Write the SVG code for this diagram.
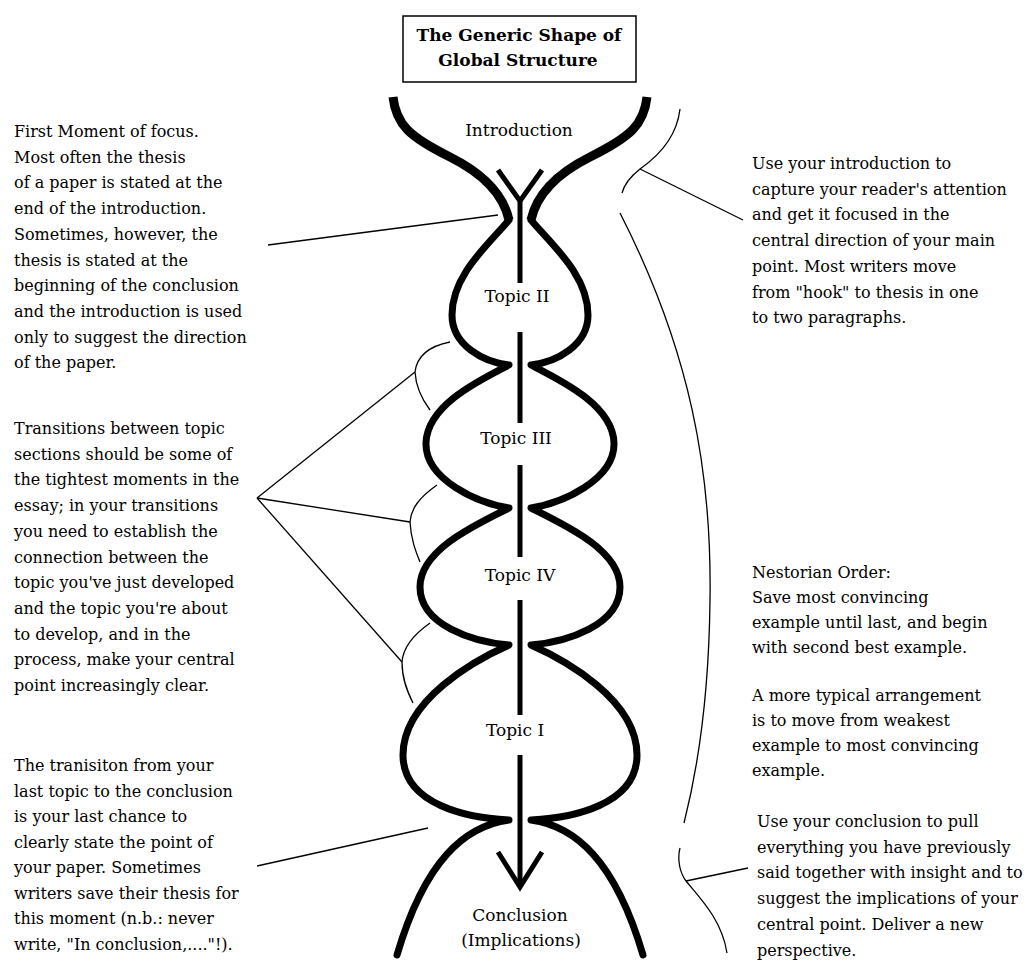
<svg xmlns="http://www.w3.org/2000/svg" xmlns:xlink="http://www.w3.org/1999/xlink" width="1031" height="961" viewBox="0 0 1031 961">
<style>
  .t { font-family: "DejaVu Serif", "Liberation Serif", serif; font-size: 16px; fill: #000; }
  .lbl { font-family: "DejaVu Serif", "Liberation Serif", serif; font-size: 17px; fill: #000; text-anchor: middle; }
  .ttl { font-family: "DejaVu Serif", "Liberation Serif", serif; font-size: 17px; font-weight: bold; fill: #000; text-anchor: middle; }
  .shape { fill: none; stroke: #000; stroke-width: 7; stroke-linejoin: round; stroke-linecap: round; }
  .funnel { fill: none; stroke: #000; stroke-width: 9; stroke-linejoin: round; stroke-linecap: butt; }
  .stem { fill: none; stroke: #000; stroke-width: 5; stroke-linejoin: miter; }
  .thin { fill: none; stroke: #000; stroke-width: 1.3; }
</style>
<defs>
  <path id="introSide" d="M 393 97 C 396 125, 410 137, 450 157 C 488 176, 504 197, 509 220"/>
  <path id="bodySide" d="M 509 220 C 488 245, 452 275, 452 315 C 452 345, 483 362, 509 365 C 480 380, 427 405, 426 443 C 425 480, 478 503, 509 508 C 475 525, 420 550, 420 587 C 420 625, 473 642, 509 645 C 475 660, 403 700, 403 755 C 403 805, 468 818, 509 820 C 465 826, 425 860, 397 955"/>
</defs>
<rect width="1031" height="961" fill="#fff"/>

<g id="title">
  <rect x="403" y="16" width="233" height="66" fill="#fff" stroke="#000" stroke-width="1.5"/>
  <text class="ttl" x="519" y="41">The Generic Shape of</text>
  <text class="ttl" x="518" y="66">Global Structure</text>
</g>

<g id="structure">
  <use xlink:href="#introSide" class="funnel"/>
  <use xlink:href="#introSide" class="funnel" transform="matrix(-1 0 0 1 1040 0)"/>
  <use xlink:href="#bodySide" class="shape"/>
  <use xlink:href="#bodySide" class="shape" transform="matrix(-1 0 0 1 1040 0)"/>
  <polyline class="stem" points="498,170 520,201 542,170"/>
  <line class="stem" x1="520" y1="200" x2="520" y2="283"/>
  <line class="stem" x1="520" y1="332" x2="520" y2="423"/>
  <line class="stem" x1="520" y1="465" x2="520" y2="557"/>
  <line class="stem" x1="520" y1="600" x2="520" y2="715"/>
  <line class="stem" x1="520" y1="755" x2="520" y2="884"/>
  <polyline class="stem" points="498,852 520,887 542,852"/>
</g>

<g id="introduction"><text class="lbl" x="519" y="136">Introduction</text></g>
<g id="topic-ii"><text class="lbl" x="517" y="302">Topic II</text></g>
<g id="topic-iii"><text class="lbl" x="516" y="444">Topic III</text></g>
<g id="topic-iv"><text class="lbl" x="520" y="581">Topic IV</text></g>
<g id="topic-i"><text class="lbl" x="515" y="736">Topic I</text></g>
<g id="conclusion">
  <text class="lbl" x="520" y="921">Conclusion</text>
  <text class="lbl" x="521" y="946">(Implications)</text>
</g>

<g id="note-first-moment">
  <text class="t" x="14" y="137">
    <tspan x="14" dy="0">First Moment of focus.</tspan>
    <tspan x="14" dy="25.7">Most often the thesis</tspan>
    <tspan x="14" dy="25.7">of a paper is stated at the</tspan>
    <tspan x="14" dy="25.7">end of the introduction.</tspan>
    <tspan x="14" dy="25.7">Sometimes, however, the</tspan>
    <tspan x="14" dy="25.7">thesis is stated at the</tspan>
    <tspan x="14" dy="25.7">beginning of the conclusion</tspan>
    <tspan x="14" dy="25.7">and the introduction is used</tspan>
    <tspan x="14" dy="25.7">only to suggest the direction</tspan>
    <tspan x="14" dy="25.7">of the paper.</tspan>
  </text>
</g>

<g id="note-transitions">
  <text class="t" x="14" y="434">
    <tspan x="14" dy="0">Transitions between topic</tspan>
    <tspan x="14" dy="25.7">sections should be some of</tspan>
    <tspan x="14" dy="25.7">the tightest moments in the</tspan>
    <tspan x="14" dy="25.7">essay; in your transitions</tspan>
    <tspan x="14" dy="25.7">you need to establish the</tspan>
    <tspan x="14" dy="25.7">connection between the</tspan>
    <tspan x="14" dy="25.7">topic you've just developed</tspan>
    <tspan x="14" dy="25.7">and the topic you're about</tspan>
    <tspan x="14" dy="25.7">to develop, and in the</tspan>
    <tspan x="14" dy="25.7">process, make your central</tspan>
    <tspan x="14" dy="25.7">point increasingly clear.</tspan>
  </text>
</g>

<g id="note-last-transition">
  <text class="t" x="14" y="771">
    <tspan x="14" dy="0">The tranisiton from your</tspan>
    <tspan x="14" dy="25.5">last topic to the conclusion</tspan>
    <tspan x="14" dy="25.5">is your last chance to</tspan>
    <tspan x="14" dy="25.5">clearly state the point of</tspan>
    <tspan x="14" dy="25.5">your paper. Sometimes</tspan>
    <tspan x="14" dy="25.5">writers save their thesis for</tspan>
    <tspan x="14" dy="25.5">this moment (n.b.: never</tspan>
    <tspan x="14" dy="25.5">write, "In conclusion,...."!).</tspan>
  </text>
</g>

<g id="note-introduction">
  <text class="t" x="752" y="169">
    <tspan x="752" dy="0">Use your introduction to</tspan>
    <tspan x="752" dy="25.7">capture your reader's attention</tspan>
    <tspan x="752" dy="25.7">and get it focused in the</tspan>
    <tspan x="752" dy="25.7">central direction of your main</tspan>
    <tspan x="752" dy="25.7">point. Most writers move</tspan>
    <tspan x="752" dy="25.7">from "hook" to thesis in one</tspan>
    <tspan x="752" dy="25.7">to two paragraphs.</tspan>
  </text>
</g>

<g id="note-order">
  <text class="t" x="752" y="578">
    <tspan x="752" dy="0">Nestorian Order:</tspan>
    <tspan x="752" dy="25">Save most convincing</tspan>
    <tspan x="752" dy="25">example until last, and begin</tspan>
    <tspan x="752" dy="25">with second best example.</tspan>
    <tspan x="752" dy="48">A more typical arrangement</tspan>
    <tspan x="752" dy="25">is to move from weakest</tspan>
    <tspan x="752" dy="25">example to most convincing</tspan>
    <tspan x="752" dy="25">example.</tspan>
  </text>
</g>

<g id="note-conclusion">
  <text class="t" x="757" y="827">
    <tspan x="757" dy="0">Use your conclusion to pull</tspan>
    <tspan x="757" dy="25.7">everything you have previously</tspan>
    <tspan x="757" dy="25.7">said together with insight and to</tspan>
    <tspan x="757" dy="25.7">suggest the implications of your</tspan>
    <tspan x="757" dy="25.7">central point. Deliver a new</tspan>
    <tspan x="757" dy="25.7">perspective.</tspan>
  </text>
</g>

<g id="connectors">
  <line class="thin" x1="268" y1="245" x2="498" y2="215"/>
  <line class="thin" x1="257" y1="498" x2="415" y2="372"/>
  <line class="thin" x1="257" y1="498" x2="410" y2="522"/>
  <line class="thin" x1="257" y1="498" x2="402" y2="662"/>
  <path class="thin" d="M 450 342 C 430 346, 417 355, 415 372 C 416 390, 424 402, 430 410"/>
  <path class="thin" d="M 437 485 C 420 497, 411 508, 410 522 C 411 540, 416 552, 420 562"/>
  <path class="thin" d="M 430 623 C 413 635, 403 648, 402 662 C 402 680, 408 693, 413 703"/>
  <line class="thin" x1="257" y1="866" x2="428" y2="828"/>
  <path class="thin" d="M 680 109 C 677 135, 660 155, 640 169 C 630 177, 624 185, 622 193"/>
  <line class="thin" x1="640" y1="169" x2="743" y2="220"/>
  <path class="thin" d="M 620 213 C 690 350, 712 470, 710 600 C 709 690, 700 760, 684 823"/>
  <path class="thin" d="M 680 848 C 677 860, 680 873, 686 881 C 700 898, 722 920, 727 953"/>
  <line class="thin" x1="686" y1="881" x2="748" y2="868"/>
</g>
</svg>
